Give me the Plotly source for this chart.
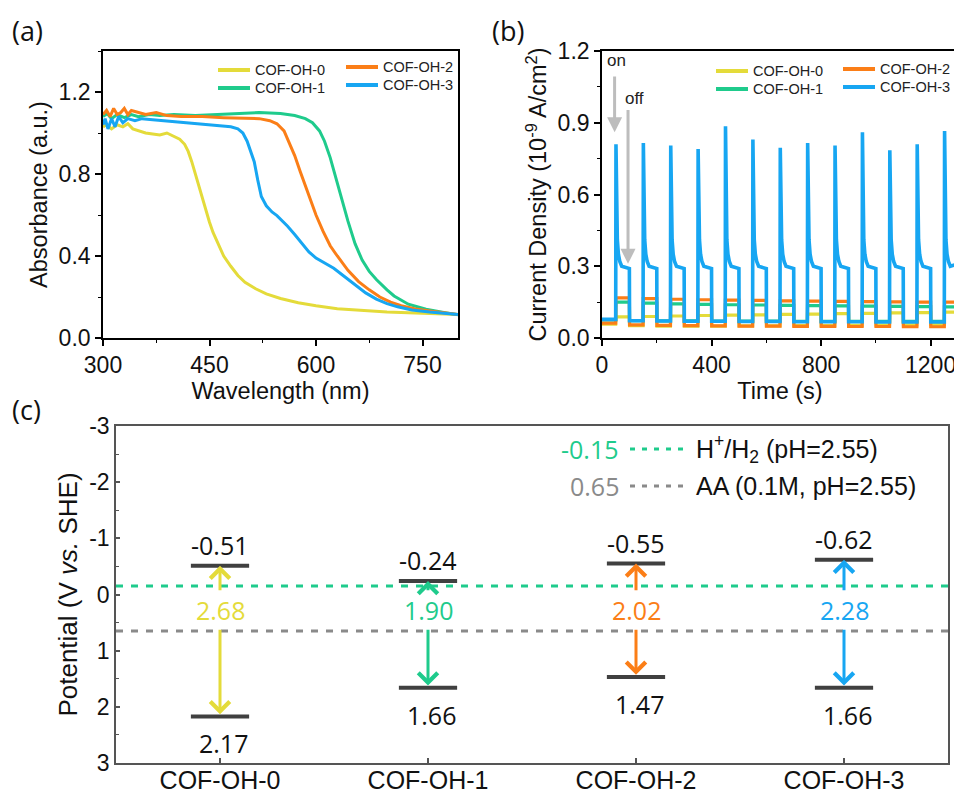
import plotly.graph_objects as go

W, H = 962, 793
ARIAL = "Liberation Sans, Arial, sans-serif"
NUMF = "Open Sans, sans-serif"

# ---------------- shared ----------------
names = ["COF-OH-0", "COF-OH-1", "COF-OH-2", "COF-OH-3"]
colors = ["#E4DB3A", "#1FCB8C", "#FB7E17", "#17A6F2"]

# ---------------- (a) UV-vis absorbance ----------------
wl_0 = [300, 305, 312, 320, 328, 335, 342, 350, 360, 370, 380, 390, 400, 408, 415, 420, 425, 430, 435, 440,
        445, 450, 455, 460, 470, 480, 490, 500, 515, 530, 550, 575, 600, 630, 660, 700, 740, 770, 800]
abs_0 = [1.03, 1.04, 1.02, 1.04, 1.03, 1.045, 1.02, 1.01, 1.0, 0.995, 0.99, 1.0, 0.985, 0.97, 0.945, 0.91,
         0.86, 0.8, 0.74, 0.68, 0.62, 0.565, 0.515, 0.475, 0.4, 0.35, 0.305, 0.272, 0.24, 0.215, 0.193,
         0.172, 0.157, 0.143, 0.135, 0.127, 0.122, 0.119, 0.115]

wl_1 = [300, 306, 312, 320, 330, 340, 350, 365, 380, 400, 430, 460, 490, 520, 550, 570, 585, 595, 605,
        612, 620, 628, 636, 645, 655, 665, 675, 685, 700, 710, 730, 755, 780, 800]
abs_1 = [1.08, 1.095, 1.07, 1.09, 1.075, 1.09, 1.08, 1.09, 1.085, 1.09, 1.085, 1.09, 1.095, 1.1, 1.095,
         1.085, 1.07, 1.05, 1.01, 0.96, 0.88, 0.78, 0.67, 0.57, 0.46, 0.38, 0.325, 0.285, 0.235, 0.205,
         0.165, 0.14, 0.125, 0.113]

wl_2 = [300, 305, 310, 315, 320, 325, 330, 335, 340, 350, 360, 375, 390, 410, 440, 470, 500, 520, 535,
        545, 555, 563, 570, 578, 585, 592, 600, 610, 620, 630, 645, 660, 675, 690, 705, 720, 740, 760,
        780, 800]
abs_2 = [1.09, 1.11, 1.08, 1.12, 1.09, 1.1, 1.12, 1.09, 1.11, 1.1, 1.09, 1.1, 1.085, 1.08, 1.08, 1.075,
         1.07, 1.07, 1.06, 1.045, 1.01, 0.95, 0.89, 0.81, 0.74, 0.67, 0.6, 0.52, 0.45, 0.4, 0.33, 0.275,
         0.235, 0.2, 0.175, 0.158, 0.142, 0.132, 0.122, 0.115]

wl_3 = [300, 303, 307, 312, 317, 322, 328, 335, 345, 355, 370, 385, 400, 420, 440, 460, 480, 490, 497,
        503, 508, 513, 518, 523, 530, 538, 545, 552, 560, 570, 580, 590, 600, 612, 625, 640, 655, 670,
        685, 700, 715, 735, 760, 780, 800]
abs_3 = [1.04, 1.07, 1.02, 1.07, 1.03, 1.08, 1.05, 1.07, 1.06, 1.07, 1.065, 1.06, 1.055, 1.05, 1.04,
         1.035, 1.03, 1.02, 1.0, 0.96, 0.91, 0.86, 0.77, 0.69, 0.645, 0.615, 0.597, 0.575, 0.545, 0.505,
         0.46, 0.42, 0.39, 0.365, 0.34, 0.3, 0.26, 0.22, 0.19, 0.168, 0.152, 0.137, 0.127, 0.12, 0.115]

uv_wl = [wl_0, wl_1, wl_2, wl_3]
uv_abs = [abs_0, abs_1, abs_2, abs_3]

# ---------------- (b) transient photocurrent ----------------
t_end = 1300
light_on = [50, 150, 250, 350, 450, 550, 650, 750, 850, 950, 1050, 1150, 1250]
light_off = [100, 200, 300, 400, 500, 600, 700, 800, 900, 1000, 1100, 1200]

yellow_on = [0.088, 0.090, 0.092, 0.094, 0.096, 0.097, 0.099, 0.100, 0.102, 0.103, 0.105, 0.106, 0.108]
yellow_off = [0.058, 0.052, 0.050, 0.050, 0.050, 0.051, 0.051, 0.052, 0.052, 0.053, 0.054, 0.055, 0.056]
green_on = [0.150, 0.146, 0.143, 0.141, 0.139, 0.138, 0.136, 0.135, 0.134, 0.133, 0.132, 0.131, 0.130]
green_off = [0.076, 0.073, 0.072, 0.072, 0.071, 0.071, 0.071, 0.070, 0.070, 0.070, 0.070, 0.070, 0.070]
orange_on = [0.168, 0.165, 0.162, 0.160, 0.158, 0.157, 0.155, 0.154, 0.153, 0.152, 0.151, 0.150, 0.150]
orange_off = [0.062, 0.055, 0.053, 0.052, 0.051, 0.050, 0.050, 0.049, 0.049, 0.048, 0.048, 0.047, 0.047]
blue_peak = [0.81, 0.815, 0.805, 0.79, 0.885, 0.83, 0.795, 0.815, 0.805, 0.86, 0.785, 0.81, 0.865]
blue_plateau = [0.29, 0.29, 0.29, 0.29, 0.29, 0.29, 0.29, 0.29, 0.29, 0.29, 0.29, 0.29, 0.30]
blue_off = [0.078, 0.072, 0.071, 0.070, 0.070, 0.069, 0.069, 0.068, 0.068, 0.068, 0.067, 0.067, 0.067]
# shape of the blue spike after switching on (seconds after light on)
spike_dt = [3, 6, 10, 15, 22]
spike_val = [0.52, 0.41, 0.35, 0.32, 0.30]

# ---------------- (c) band positions ----------------
categories = ["COF-OH-0", "COF-OH-1", "COF-OH-2", "COF-OH-3"]
cb_pot = [-0.51, -0.24, -0.55, -0.62]
vb_pot = [2.17, 1.66, 1.47, 1.66]
band_gap = [2.68, 1.90, 2.02, 2.28]
hplus_pot = -0.15
aa_pot = 0.65


def step_series(on_vals, off_vals):
    t, y = [0], [off_vals[0]]
    for i, t0 in enumerate(light_on):
        t += [t0, t0 + 0.6]
        y += [off_vals[i], on_vals[i]]
        if i < len(light_off):
            t1 = light_off[i]
            t += [t1, t1 + 0.6]
            y += [on_vals[i], off_vals[i + 1] if i + 1 < len(off_vals) else off_vals[i]]
        else:
            t.append(t_end)
            y.append(on_vals[i])
    return t, y


def spike_series():
    t, y = [0], [blue_off[0]]
    for i, t0 in enumerate(light_on):
        t += [t0, t0 + 1]
        y += [blue_off[i], blue_peak[i]]
        for dt, v in zip(spike_dt, spike_val):
            t.append(t0 + dt)
            y.append(max(v, blue_plateau[i]))
        if i < len(light_off):
            t1 = light_off[i]
            t += [t1, t1 + 0.6]
            y += [blue_plateau[i], blue_off[i + 1] if i + 1 < len(blue_off) else blue_off[i]]
        else:
            t.append(t_end)
            y.append(blue_plateau[i] + 0.01)
    return t, y


fig = go.Figure()

# (a) traces
for k in range(4):
    fig.add_trace(go.Scatter(x=uv_wl[k], y=uv_abs[k], mode="lines", name=names[k],
                             line=dict(color=colors[k], width=3), xaxis="x", yaxis="y",
                             showlegend=False))

# (b) traces
pc = [step_series(yellow_on, yellow_off), step_series(green_on, green_off),
      step_series(orange_on, orange_off), spike_series()]
for k in range(4):
    fig.add_trace(go.Scatter(x=pc[k][0], y=pc[k][1], mode="lines", name=names[k],
                             line=dict(color=colors[k], width=3.2 if k < 3 else 3.6),
                             xaxis="x2", yaxis="y2", showlegend=False))

# (c) energy levels
lx, ly = [], []
for i in range(len(categories)):
    for v in (cb_pot[i], vb_pot[i]):
        lx += [i - 0.14, i + 0.14, None]
        ly += [v, v, None]
fig.add_trace(go.Scatter(x=lx, y=ly, mode="lines", line=dict(color="#404040", width=4),
                         xaxis="x3", yaxis="y3", showlegend=False, hoverinfo="skip"))

shapes = []
annotations = []

# legends of panels (a) and (b): two columns of two entries each
# (sample start x, row-centre y) in pixels for each entry
legend_a_pos = [(210, 62), (210, 80), (338, 59), (338, 77)]
legend_b_pos = [(708, 63), (708, 81), (835, 61), (835, 79)]
for pos_list in (legend_a_pos, legend_b_pos):
    for k, (xs, yc) in enumerate(pos_list):
        shapes.append(dict(type="line", xref="paper", yref="paper", x0=xs / W, x1=(xs + 32) / W,
                           y0=1 - yc / H, y1=1 - yc / H, line=dict(color=colors[k], width=4)))
        annotations.append(dict(xref="paper", yref="paper", x=(xs + 35) / W, y=1 - yc / H,
                                xanchor="left", yanchor="middle", text=names[k], showarrow=False,
                                font=dict(family=ARIAL, size=14.5, color="#222222")))

# reference potentials
for pot, col in ((hplus_pot, colors[1]), (aa_pot, "#8A8A8A")):
    shapes.append(dict(type="line", xref="x3 domain", yref="y3", x0=0, x1=1, y0=pot, y1=pot,
                       line=dict(color=col, width=3, dash="7px,8px")))

for i in range(len(categories)):
    col = colors[i]
    # up arrow to CB
    annotations.append(dict(xref="x3", yref="y3", axref="x3", ayref="y3", x=i, y=cb_pot[i],
                            ax=i, ay=-0.05, text="", showarrow=True, arrowhead=4, arrowsize=1.25,
                            arrowwidth=3, arrowcolor=col))
    # down arrow to VB
    annotations.append(dict(xref="x3", yref="y3", axref="x3", ayref="y3", x=i, y=vb_pot[i] - 0.04,
                            ax=i, ay=0.6, text="", showarrow=True, arrowhead=4, arrowsize=1.25,
                            arrowwidth=3, arrowcolor=col))
    annotations.append(dict(xref="x3", yref="y3", x=i, y=0.28, text=f"{band_gap[i]:.2f}",
                            showarrow=False, font=dict(family=NUMF, size=25, color=col)))
    annotations.append(dict(xref="x3", yref="y3", x=i, y=cb_pot[i], text=f"{cb_pot[i]:.2f}",
                            showarrow=False, yanchor="bottom", yshift=2,
                            font=dict(family=NUMF, size=25, color="#111111")))
    annotations.append(dict(xref="x3", yref="y3", x=i, y=vb_pot[i], text=f"{vb_pot[i]:.2f}",
                            showarrow=False, yanchor="top", xshift=3, yshift=-8,
                            font=dict(family=NUMF, size=25, color="#111111")))

# (c) legend for the reference potentials
leg_rows = [(hplus_pot, colors[1], "H<sup>+</sup>/H<sub>2</sub> (pH=2.55)", 441),
            (aa_pot, "#8A8A8A", "AA (0.1M, pH=2.55)", 478)]
for pot, col, label, yp in leg_rows:
    shapes.append(dict(type="line", xref="paper", yref="paper", x0=622 / W, x1=682 / W,
                       y0=1 - yp / H, y1=1 - yp / H, line=dict(color=col, width=3, dash="5px,7px")))
    annotations.append(dict(xref="paper", yref="paper", x=613 / W, y=1 - yp / H, xanchor="right",
                            yanchor="middle", text=f"{pot:.2f}", showarrow=False,
                            font=dict(family=NUMF, size=25, color=col)))
    annotations.append(dict(xref="paper", yref="paper", x=686 / W, y=1 - yp / H, xanchor="left",
                            yanchor="middle", text=label, showarrow=False,
                            font=dict(family=ARIAL, size=25, color="#111111")))

# (b) on / off arrows
annotations += [
    dict(xref="x2", yref="y2", axref="x2", ayref="y2", x=46, y=0.86, ax=46, ay=1.10, text="",
         showarrow=True, arrowhead=2, arrowsize=1, arrowwidth=3, arrowcolor="#BDBDBD"),
    dict(xref="x2", yref="y2", axref="x2", ayref="y2", x=95, y=0.31, ax=95, ay=0.96, text="",
         showarrow=True, arrowhead=2, arrowsize=1, arrowwidth=3, arrowcolor="#BDBDBD"),
    dict(xref="x2", yref="y2", x=52, y=1.16, text="on", showarrow=False,
         font=dict(family=ARIAL, size=17, color="#222222")),
    dict(xref="x2", yref="y2", x=120, y=1.0, text="off", showarrow=False,
         font=dict(family=ARIAL, size=17, color="#222222")),
]

# panel labels
for lab, xp, yp in (("(a)", 2, 22), ("(b)", 482, 22), ("(c)", 2, 401)):
    annotations.append(dict(xref="paper", yref="paper", x=xp / W, y=1 - yp / H, xanchor="left",
                            yanchor="middle", text=lab, showarrow=False,
                            font=dict(family=NUMF, size=27, color="#111111")))


def ax_style(fs_tick, fs_title, title, line="black"):
    return dict(showline=True, linecolor=line, linewidth=1.6, mirror=True, ticks="outside",
                ticklen=6, tickwidth=1.5, tickcolor=line, showgrid=False, zeroline=False,
                automargin=False, tickfont=dict(family=ARIAL, size=fs_tick, color="#111111"),
                title=dict(text=title, font=dict(family=ARIAL, size=fs_title, color="#111111"),
                           standoff=4))


ya_top, ya_bot = 1 - 43 / H, 1 - 330 / H

xa = ax_style(23, 23.5, "Wavelength (nm)")
xa.update(domain=[95 / W, 450 / W], anchor="y", range=[300, 800], tick0=300, dtick=150,
          minor=dict(dtick=75, ticks="outside", ticklen=3, tickwidth=1.3, tickcolor="black"))
ya = ax_style(23, 23.5, "Absorbance (a.u.)")
ya.update(domain=[ya_bot, ya_top], anchor="x", range=[0, 1.4], tick0=0, dtick=0.4, tickformat=".1f",
          minor=dict(dtick=0.2, ticks="outside", ticklen=3, tickwidth=1.3, tickcolor="black"))

xa2 = ax_style(23, 23.5, "Time (s)")
xa2.update(domain=[594 / W, 950 / W], anchor="y2", range=[0, 1300], tick0=0, dtick=400,
           minor=dict(dtick=200, ticks="outside", ticklen=3, tickwidth=1.3, tickcolor="black"))
ya2 = ax_style(23, 23.5, "Current Density (10<sup>-9</sup> A/cm<sup>2</sup>)")
ya2.update(domain=[ya_bot, ya_top], anchor="x2", range=[0, 1.2], tick0=0, dtick=0.3, tickformat=".1f",
           minor=dict(dtick=0.15, ticks="outside", ticklen=3, tickwidth=1.3, tickcolor="black"))

xa3 = ax_style(25, 26, "", line="#555555")
xa3.update(domain=[108 / W, 940 / W], anchor="y3", range=[-0.5, 3.5],
           tickvals=list(range(len(categories))), ticktext=categories, ticks="inside", ticklen=5,
           ticklabelstandoff=-6)
ya3 = ax_style(23, 26, "Potential (V <i>vs.</i> SHE)", line="#555555")
ya3.update(domain=[1 - 755 / H, 1 - 418 / H], anchor="x3", range=[3, -3], ticks="inside", ticklen=4,
           tickvals=[-3, -2, -1, 0, 1, 2, 3], ticktext=["-3", "-2", "-1", "0", "1", "2", "3"],
           minor=dict(tickvals=[-2.5, -1.5, -0.5, 0.5, 1.5, 2.5], ticks="inside", ticklen=3,
                      tickwidth=1.2, tickcolor="#555555"))

fig.update_layout(
    width=W, height=H, margin=dict(l=0, r=0, t=0, b=0, pad=0),
    paper_bgcolor="white", plot_bgcolor="white", showlegend=False,
    xaxis=xa, yaxis=ya, xaxis2=xa2, yaxis2=ya2, xaxis3=xa3, yaxis3=ya3,
    shapes=shapes, annotations=annotations,
)

fig.write_html("out.html")
